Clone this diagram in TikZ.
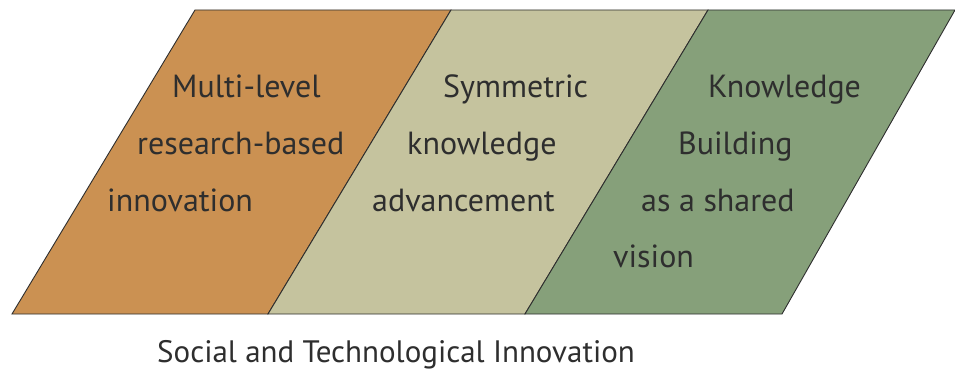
\documentclass[tikz,border=0pt]{standalone}
\usepackage{fontspec}
\setmainfont{PT Sans}
\definecolor{orangebox}{HTML}{CB9152}
\definecolor{beigebox}{HTML}{C5C39E}
\definecolor{greenbox}{HTML}{86A07A}
\definecolor{inkgray}{HTML}{2E2E2E}

\begin{document}
\begin{tikzpicture}[x=1pt,y=-1pt,
    panel/.style={draw=inkgray, line width=0.9pt, line join=miter},
    label/.style={anchor=base west, inner sep=0pt, text=inkgray,
        font=\fontsize{32}{38}\selectfont}]

        \useasboundingbox (0,0) rectangle (955,371);
        \fill[white] (0,0) rectangle (955,371);

        %Corners along the top and bottom edge
        \coordinate (b0) at (12,314);   \coordinate (t0) at (195,10);
        \coordinate (b1) at (268,314);  \coordinate (t1) at (451,10);
        \coordinate (b2) at (525,314);  \coordinate (t2) at (708,10);
        \coordinate (b3) at (782,314);  \coordinate (t3) at (955,10);

        %Drawing the three panels
        \filldraw[panel, fill=orangebox] (b0) -- (t0) -- (t1) -- (b1) -- cycle; %left
        \filldraw[panel, fill=beigebox] (b1) -- (t1) -- (t2) -- (b2) -- cycle; %middle
        \filldraw[panel, fill=greenbox] (b2) -- (t2) -- (t3) -- (b3) -- cycle; %right

        %Left panel text
        \node[label] (multi) at (172,98) {Multi-level};
        \node[label] (research) at (137,155) {research-based};
        \node[label] (innov) at (107,212) {innovation};

        %Middle panel text
        \node[label] (symm) at (443,98) {Symmetric};
        \node[label] (knowl) at (407,155) {knowledge};
        \node[label] (advance) at (372,212) {advancement};

        %Right panel text
        \node[label] (kb) at (708,98) {Knowledge};
        \node[label] (building) at (678,155) {Building};
        \node[label] (shared) at (641,212) {as a shared};
        \node[label] (vision) at (613,268) {vision};

        %Caption below
        \node[label, font=\fontsize{31}{36}\selectfont] (caption) at (157,362)
            {Social and Technological Innovation};

\end{tikzpicture}
\end{document}
